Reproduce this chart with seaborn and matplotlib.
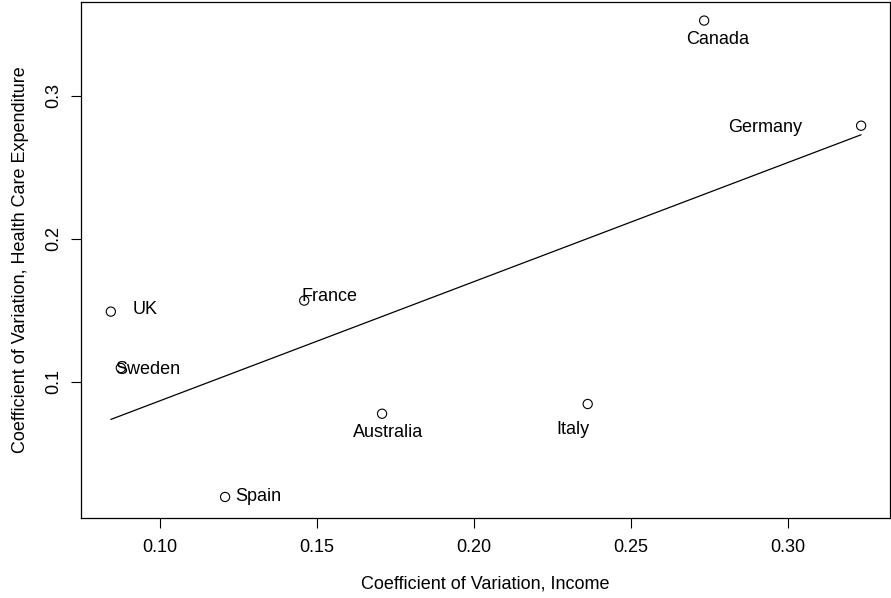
import matplotlib
matplotlib.use("Agg")
import matplotlib.pyplot as plt
import seaborn as sns
import pandas as pd

# Coefficients of variation by country
countries = ["UK", "Sweden", "Spain", "France", "Australia", "Italy", "Canada", "Germany"]
income_cv = [0.0843, 0.0875, 0.1207, 0.1459, 0.1707, 0.2362, 0.2733, 0.3233]
health_cv = [0.1492, 0.1098, 0.0196, 0.1569, 0.0778, 0.0846, 0.3527, 0.2792]

# Label offsets (pixels) relative to each point
label_dx = [34, 27, 33, 25, 6, -15, 13, -96]
label_dy = [2, -2, 0, 4, -19, -25, -19, -2]

df = pd.DataFrame({"country": countries, "income": income_cv, "health": health_cv})

sns.set_style("ticks")
plt.rcParams["font.family"] = ["Liberation Sans", "DejaVu Sans"]
plt.rcParams["text.color"] = "black"
plt.rcParams["axes.labelcolor"] = "black"

fig = plt.figure(figsize=(8.91, 5.98), dpi=100)
ax = fig.add_axes([81 / 891, 1 - 517.5 / 598, 809 / 891, 515.5 / 598])

sns.scatterplot(data=df, x="income", y="health", marker="o", s=44,
                facecolor="none", edgecolor="black", linewidth=0.8, ax=ax)
sns.regplot(data=df, x="income", y="health", scatter=False, ci=None,
            truncate=True, line_kws=dict(color="black", lw=0.9), ax=ax)

for name, x, y, dx, dy in zip(countries, income_cv, health_cv, label_dx, label_dy):
    ax.annotate(name, (x, y), xytext=(dx * 0.72, dy * 0.72), textcoords="offset points",
                ha="center", va="center", fontsize=13, color="black")

ax.set_xlim(0.0748, 0.3325)
ax.set_ylim(0.00524, 0.3657)
ax.set_xticks([0.10, 0.15, 0.20, 0.25, 0.30])
ax.set_xticklabels(["0.10", "0.15", "0.20", "0.25", "0.30"])
ax.set_yticks([0.1, 0.2, 0.3])
ax.set_yticklabels(["0.1", "0.2", "0.3"])

ax.tick_params(axis="both", direction="out", length=7.5, width=0.8, color="black",
               labelsize=13, labelcolor="black")
ax.tick_params(axis="x", pad=8)
ax.tick_params(axis="y", pad=6, labelrotation=90)
for lab in ax.get_yticklabels():
    lab.set_va("center")

for sp in ax.spines.values():
    sp.set_visible(True)
    sp.set_color("black")
    sp.set_linewidth(0.9)

ax.set_xlabel("Coefficient of Variation, Income", fontsize=13, labelpad=14, color="black")
ax.set_ylabel("Coefficient of Variation, Health Care Expenditure", fontsize=13,
              labelpad=12, color="black")

fig.savefig("out.png", dpi=100)
